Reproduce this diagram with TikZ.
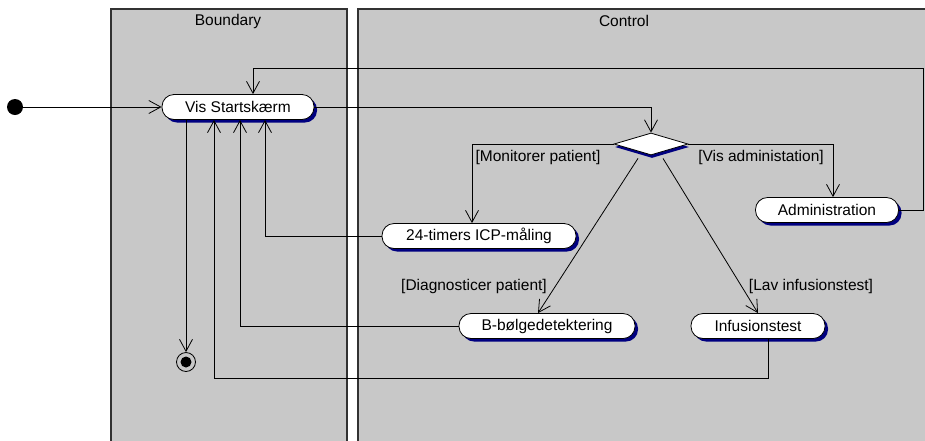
\documentclass[tikz,border=0pt]{standalone}
\usepackage{fontspec}
\setmainfont{Liberation Sans}
\usetikzlibrary{arrows.meta,shapes.geometric,shadows}
\definecolor{lanegray}{RGB}{200,200,200}
\definecolor{laneline}{RGB}{50,50,50}
\definecolor{shadowblue}{RGB}{0,0,128}
\begin{document}
\begin{tikzpicture}[x=1pt,y=-1pt,
  font=\fontsize{15.5}{18}\selectfont,
  lane/.style={fill=lanegray, draw=laneline, line width=1.6pt},
  activity/.style={draw=black, fill=white, rounded corners=12pt,
    minimum height=25pt, inner sep=0pt, line width=0.8pt,
    drop shadow={shadow xshift=3pt, shadow yshift=-3pt, fill=shadowblue, opacity=1}},
  decision/.style={diamond, draw=black, fill=white, inner sep=0pt,
    minimum width=74pt, minimum height=22pt, line width=0.8pt,
    drop shadow={shadow xshift=1pt, shadow yshift=-3pt, fill=shadowblue, opacity=1}},
  flow/.style={draw=black, line width=0.8pt, -{Straight Barb[length=12pt,width=13pt]}},
  guard/.style={inner sep=0pt}
]
\useasboundingbox (0,0) rectangle (925,440);
\clip (0,0) rectangle (925,440);

% swimlanes
\draw[lane] (111,9) rectangle (347,470);
\draw[lane] (358,9) rectangle (960,470);
\node (tb) at (228,21) {Boundary};
\node (tc) at (624,21) {Control};

% initial and final states
\node[circle, fill=black, minimum size=16pt, inner sep=0pt] (start) at (15,107) {};
\node[circle, draw=black, line width=0.8pt, minimum size=19pt, inner sep=0pt,
  path picture={\fill[black] (path picture bounding box.center) circle (5.5pt);}]
  (final) at (186,362) {};

% activities
\node[activity, minimum width=152pt] (vis) at (238,107) {Vis Startskærm};
\node[decision] (dia) at (651,144) {};
\node[activity, minimum width=143pt] (adm) at (827,210) {Administration};
\node[activity, minimum width=194pt] (icp) at (479,236) {24-timers ICP-måling};
\node[activity, minimum width=176pt] (bb) at (547,326) {B-bølgedetektering};
\node[activity, minimum width=134pt] (inf) at (758,326) {Infusionstest};

% guards
\node[guard] (lmon) at (538,157) {[Monitorer patient]};
\node[guard] (ladm) at (761,157) {[Vis administation]};
\node[guard] (ldia) at (474,286) {[Diagnosticer patient]};
\node[guard] (linf) at (811,286) {[Lav infusionstest]};

% transitions
\draw[flow] (start) -- (vis.west);
\draw[flow] (vis.east) -| (dia.north);
\draw[flow] (dia.west) -| ([xshift=-7pt]icp.north);
\draw[flow] (dia.east) -| ([xshift=6pt]adm.north);
\draw[flow] ([xshift=-13pt,yshift=-3pt]dia.south) -- ([xshift=-9pt]bb.north);
\draw[flow] ([xshift=12pt,yshift=-3pt]dia.south) -- (inf.north);
\draw[flow] (adm.east) -- ++(24,0) -- ++(0,-142) -| ([xshift=15pt]vis.north);
\draw[flow] (icp.west) -| ([xshift=27pt]vis.south);
\draw[flow] (bb.west) -| ([xshift=2pt]vis.south);
\draw[flow] ([xshift=10pt]inf.south) -- ++(0,39) -| ([xshift=-24pt]vis.south);
\draw[flow] ([xshift=-52pt]vis.south) -- (final.north);
\end{tikzpicture}
\end{document}
